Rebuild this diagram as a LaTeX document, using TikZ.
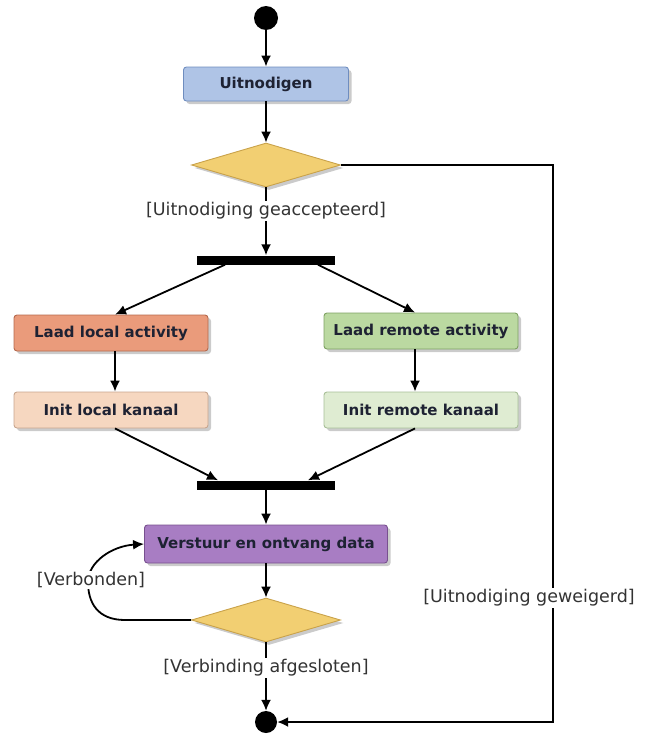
\documentclass[tikz,border=0pt]{standalone}
\usepackage{fontspec}
\setmainfont{DejaVu Sans}
\usetikzlibrary{shapes.geometric, arrows.meta, shadows}
\definecolor{uitblauw}{HTML}{AFC4E6}
\definecolor{uitblauwrand}{HTML}{6F8DBF}
\definecolor{keuzegeel}{HTML}{F2CF72}
\definecolor{keuzegeelrand}{HTML}{C9A24A}
\definecolor{lokaaloranje}{HTML}{EA9B7B}
\definecolor{lokaaloranjerand}{HTML}{B5694D}
\definecolor{lokaalperzik}{HTML}{F6D7C0}
\definecolor{lokaalperzikrand}{HTML}{C8A58E}
\definecolor{remotegroen}{HTML}{BBD9A1}
\definecolor{remotegroenrand}{HTML}{7FA263}
\definecolor{remotelicht}{HTML}{DFECD2}
\definecolor{remotelichtrand}{HTML}{A8BF98}
\definecolor{dataparts}{HTML}{A87DC3}
\definecolor{datapaarsrand}{HTML}{78508F}
\definecolor{tekstdonker}{HTML}{1E2233}

\begin{document}
\begin{tikzpicture}[x=1pt, y=-1pt,
    schaduw/.style={drop shadow={shadow xshift=3pt, shadow yshift=-3pt, fill=black!45, opacity=0.45}},
    act/.style={rounded corners=3pt, line width=0.9pt, minimum width=194pt, minimum height=36pt,
      inner sep=0pt, text=tekstdonker, font=\bfseries\fontsize{15}{17}\selectfont, schaduw},
    keuze/.style={diamond, fill=keuzegeel, draw=keuzegeelrand, line width=0.9pt, inner sep=0pt,
      minimum width=149pt, minimum height=44pt, schaduw},
    balk/.style={fill=black, inner sep=0pt, minimum width=138pt, minimum height=9pt},
    punt/.style={circle, fill=black, inner sep=0pt, minimum size=#1},
    bewaking/.style={fill=white, inner sep=1.5pt, text=black!80, font=\fontsize{17.5}{20}\selectfont},
    flow/.style={line width=1.8pt, -{Latex[length=11pt, width=10pt]}},
    lijn/.style={line width=1.8pt}]
  \useasboundingbox (0,0) rectangle (650,736);

  % knopen
  \node[punt=24pt] (start) at (266,18) {};
  \node[act, fill=uitblauw, draw=uitblauwrand, minimum width=165pt, minimum height=34pt] (uitn) at (266,84) {Uitnodigen};
  \node[keuze] (keuze1) at (266,165) {};
  \node[bewaking] (acc) at (266,211) {[Uitnodiging geaccepteerd]};
  \node[balk] (fork1) at (266,260) {};
  \node[act, fill=lokaaloranje, draw=lokaaloranjerand] (laadloc) at (111,333) {Laad local activity};
  \node[act, fill=remotegroen, draw=remotegroenrand] (laadrem) at (421,331) {Laad remote activity};
  \node[act, fill=lokaalperzik, draw=lokaalperzikrand] (initloc) at (111,410) {Init local kanaal};
  \node[act, fill=remotelicht, draw=remotelichtrand] (initrem) at (421,410) {Init remote kanaal};
  \node[balk] (fork2) at (266,485) {};
  \node[act, fill=dataparts, draw=datapaarsrand, minimum width=243pt, minimum height=38pt] (verst) at (266,544) {Verstuur en ontvang data};
  \node[keuze] (keuze2) at (266,620) {};
  \node[punt=22pt] (eind) at (266,722) {};

  % hoofdstroom
  \draw[flow] (start) -- (uitn);
  \draw[flow] (uitn) -- (keuze1);
  \draw[lijn] (keuze1) -- (acc);
  \draw[flow] (acc) -- (fork1);
  \draw[flow] ([xshift=-41pt]fork1.south) -- ([xshift=4pt]laadloc.north);
  \draw[flow] ([xshift=52pt]fork1.south) -- ([xshift=-6pt]laadrem.north);
  \draw[flow] ([xshift=4pt]laadloc.south) -- ([xshift=4pt]initloc.north);
  \draw[flow] ([xshift=-6pt]laadrem.south) -- ([xshift=-6pt]initrem.north);
  \draw[flow] ([xshift=4pt]initloc.south) -- ([xshift=-48pt]fork2.north);
  \draw[flow] ([xshift=-6pt]initrem.south) -- ([xshift=42pt]fork2.north);
  \draw[flow] (fork2) -- (verst);
  \draw[flow] (verst) -- (keuze2);

  % lus terug
  \coordinate (lusonder) at (125,620);
  \coordinate (lusmidden) at (88,582);
  \draw[flow] (keuze2.west) -- (lusonder) .. controls (97,620) and (88,602) .. (lusmidden)
    .. controls (88,562) and (112,546) .. (verst.west);
  \node[bewaking] (verb) at (91,580) {[Verbonden]};

  % afsluiten
  \node[bewaking] (afg) at (266,668) {[Verbinding afgesloten]};
  \draw[lijn] (keuze2) -- (afg);
  \draw[flow] (afg) -- (eind);

  % geweigerd
  \coordinate (hoek) at (553,165);
  \node[bewaking] (weig) at (529,598) {[Uitnodiging geweigerd]};
  \draw[lijn] (keuze1.east) -- (hoek) -- (hoek |- weig.north);
  \draw[flow] (hoek |- weig.south) -- (hoek |- eind) -- (eind);
\end{tikzpicture}
\end{document}
